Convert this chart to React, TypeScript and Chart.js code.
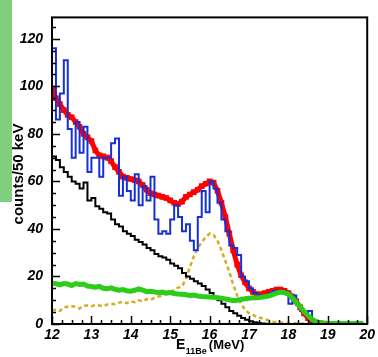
import React, { useEffect, useRef } from "react";
import { Chart, registerables } from "chart.js";
Chart.register(...registerables);

// bin grid: 0.1 MeV bins starting at 12 MeV
const E_START = 12;
const BIN = 0.1;

const xTickValues = [12, 13, 14, 15, 16, 17, 18, 19, 20];
const yTickValues = [0, 20, 40, 60, 80, 100, 120];

// measured spectrum (blue histogram), 12.0 .. 19.9
const dataBlue = [
  116, 86, 97, 111, 82, 70, 85, 72, 83, 64,
  70, 70, 62, 70, 70, 76, 78, 54, 62, 56,
  52, 63, 50, 58, 52, 62, 44, 38, 39, 38,
  44, 50, 45, 39, 42, 35, 31, 45, 56, 47,
  60, 57, 51, 44, 39, 33, 32, 29, 20, 18,
  15, 13, 12, 11, 12, 13, 14, 13, 14, 13.5,
  8.5, 12, 8, 5.5, 5, 5.5, 1, 0.5, 0.3, 0.5,
  0.2, 0.3, 0.1, 0.2, 0, 0.1, 0.2, 0, 0.1, 0,
];

// total fit (red), 12.0 .. 19.0
const fitRed = [
  99, 95, 92.5, 90, 88, 87, 85, 83, 80, 78.5,
  77, 73, 71, 70.5, 70, 68.5, 66, 64, 62, 61.5,
  61, 60.5, 60, 58.5, 56.5, 55, 54.5, 54, 53.5, 53,
  52, 51, 50.5, 51.5, 53.5, 54.5, 55.5, 56.5, 58, 59,
  60, 59.5, 56, 51, 45, 38, 31, 25, 20.5, 17.5,
  15, 13.5, 12.5, 12.5, 13, 13.5, 14, 14.5, 14.5, 14,
  13, 11.5, 9.5, 7, 4.5, 2.5, 1.3, 0.6, 0.3, 0.2,
  0.1,
];

// background (black histogram), 12.0 .. 17.4
const bgBlack = [
  70.5, 69, 66, 64, 62, 60, 59, 57, 59.5, 52,
  53, 49.5, 48.5, 47, 46.5, 44, 42, 41, 39, 38,
  37, 35.5, 34.5, 33.5, 32, 31, 29.5, 28.5, 28, 27,
  25.5, 24.5, 23.5, 21.5, 20, 19, 18, 17, 16, 14.5,
  13, 11.5, 10, 8.5, 7, 5.5, 4.5, 3.5, 2.5, 1.8,
  1.2, 0.7, 0.4, 0.2, 0.1,
];

// component (yellow dashed), 12.0 .. 19.9
const compYellow = [
  5.8, 6, 5.5, 7, 7.3, 7.5, 7.2, 6.5, 7.6, 7.8,
  7.5, 8, 7.8, 7.5, 8.2, 8.5, 8.3, 9, 9.3, 8.8,
  9.5, 9.2, 10, 9.5, 10.5, 10.2, 11, 11.5, 12, 12.8,
  13.5, 14.5, 15.3, 15.8, 19, 24, 28.5, 32, 34.5, 36.5,
  38, 37.5, 35, 31, 26.5, 22, 16.5, 12, 8.5, 6,
  4.5, 3.8, 3, 2.5, 2, 1.5, 1, 0.8, 0.6, 0.5,
  0.3, 0.2, 0.2, 0.2, 0.1, 0.1, 0.1, 0.1, 0.1, 0.1,
  0.1, 0.1, 0.1, 0.1, 0.1, 0.1, 0.1, 0.1, 0.1, 0.1,
];

// component (green), 12.0 .. 19.9
const compGreen = [
  17.2, 17, 16.5, 17, 16.8, 16.2, 17, 16.6, 16.8, 16,
  15.8, 15.5, 15.8, 15, 14.8, 15.2, 14.6, 14.2, 14.5, 14,
  13.8, 14.2, 14.8, 14.3, 13.6, 13.8, 13.5, 13.2, 13.4, 13,
  13.2, 12.8, 12.6, 12.5, 12.3, 12, 12.2, 11.8, 11.6, 11.5,
  11.4, 11.3, 11, 10.8, 10.5, 10.2, 9.8, 10, 10.3, 10.6,
  10.8, 11, 11, 11.2, 11.5, 11.8, 12.4, 13, 13.4, 13.2,
  12.6, 11, 9.2, 7.2, 5.2, 3.5, 2, 1, 0.5, 0.3,
  0.2, 0.2, 0.2, 0.2, 0.2, 0.2, 0.2, 0.2, 0.2, 0.2,
];

const edge = (i: number) => Math.round((E_START + i * BIN) * 100) / 100;

// histogram points: left edges + closing point at the last right edge
const histPoints = (vals: number[]) => {
  const pts = vals.map((v, i) => ({ x: edge(i), y: v }));
  pts.push({ x: edge(vals.length), y: vals[vals.length - 1] });
  return pts;
};
const curvePoints = (vals: number[]) => vals.map((v, i) => ({ x: edge(i), y: v }));

const FONT = "Arial, 'Liberation Sans', Helvetica, sans-serif";

const decorPlugin = {
  id: "decor",
  beforeDraw(chart: any) {
    const ctx = chart.ctx;
    ctx.save();
    ctx.fillStyle = "#ffffff";
    ctx.fillRect(0, 0, chart.width, chart.height);
    ctx.fillStyle = "#7fcf7f";
    ctx.fillRect(0, 0, 12, 202);
    // y title
    ctx.fillStyle = "#000";
    ctx.translate(19, 174);
    ctx.rotate(-Math.PI / 2);
    ctx.font = `bold 15px ${FONT}`;
    ctx.textAlign = "center";
    ctx.textBaseline = "middle";
    ctx.fillText("counts/50 keV", 0, 0);
    ctx.restore();
    // x title with subscript
    ctx.save();
    ctx.fillStyle = "#000";
    ctx.textBaseline = "alphabetic";
    ctx.textAlign = "left";
    let x = 176;
    ctx.font = `bold 14px ${FONT}`;
    ctx.fillText("E", x, 349);
    x += ctx.measureText("E").width + 0.5;
    ctx.font = `bold 9px ${FONT}`;
    ctx.fillText("11Be", x, 354);
    x += ctx.measureText("11Be").width + 2;
    ctx.font = `bold 13px ${FONT}`;
    ctx.fillText("(MeV)", x, 349);
    ctx.restore();
  },
  afterDatasetsDraw(chart: any) {
    const ctx = chart.ctx;
    const { left, right, top, bottom } = chart.chartArea;
    const xs = chart.scales.x;
    const ys = chart.scales.y;
    ctx.save();
    ctx.strokeStyle = "#000";
    ctx.lineWidth = 2;
    ctx.strokeRect(left, top, right - left, bottom - top);
    ctx.lineWidth = 1.5;
    ctx.beginPath();
    for (let k = 0; k <= 32; k++) {
      const v = 12 + k * 0.25;
      const px = Math.round(xs.getPixelForValue(v)) + 0.5;
      const len = k % 4 === 0 ? 8 : 4;
      ctx.moveTo(px, bottom);
      ctx.lineTo(px, bottom - len);
    }
    for (let v = 0; v <= 125; v += 5) {
      const py = Math.round(ys.getPixelForValue(v)) + 0.5;
      const len = v % 20 === 0 ? 8 : 4;
      ctx.moveTo(left, py);
      ctx.lineTo(left + len, py);
    }
    ctx.stroke();
    ctx.restore();
  },
};

export default function App() {
  const ref = useRef<HTMLCanvasElement>(null);
  useEffect(() => {
    if (!ref.current) return;
    const chart = new Chart(ref.current, {
      type: "line",
      data: {
        datasets: [
          {
            label: "green",
            data: curvePoints(compGreen),
            borderColor: "#2ccc18",
            borderWidth: 5,
            pointRadius: 0,
            tension: 0,
          },
          {
            label: "data",
            data: histPoints(dataBlue),
            borderColor: "#1530d8",
            borderWidth: 2,
            pointRadius: 0,
            stepped: true,
          },
          {
            label: "fit",
            data: curvePoints(fitRed),
            borderColor: "#ff0000",
            backgroundColor: "#ff0000",
            borderWidth: 5,
            pointStyle: "rect",
            pointRadius: 4,
            pointBorderWidth: 0,
            tension: 0,
          },
          {
            label: "background",
            data: histPoints(bgBlack),
            borderColor: "#000000",
            borderWidth: 2,
            pointRadius: 0,
            stepped: true,
          },
          {
            label: "yellow",
            data: curvePoints(compYellow),
            borderColor: "#d2ae22",
            borderWidth: 2.5,
            borderDash: [4, 3],
            pointRadius: 0,
            tension: 0,
          },
        ],
      },
      options: {
        animation: false,
        responsive: false,
        devicePixelRatio: 1,
        layout: { padding: { top: 6, right: 7, left: 0, bottom: 0 } },
        plugins: { legend: { display: false }, tooltip: { enabled: false } },
        scales: {
          x: {
            type: "linear",
            min: 12,
            max: 20,
            grid: { display: false, drawTicks: false },
            border: { display: false },
            afterBuildTicks: (s: any) => {
              s.ticks = xTickValues.map((v) => ({ value: v }));
            },
            afterFit: (s: any) => {
              s.height = 33;
            },
            ticks: {
              padding: 3,
              color: "#000",
              maxRotation: 0,
              autoSkip: false,
              font: { family: FONT, size: 14, weight: "bold", style: "italic" },
            },
          },
          y: {
            type: "linear",
            min: 0,
            max: 129,
            grid: { display: false, drawTicks: false },
            border: { display: false },
            afterBuildTicks: (s: any) => {
              s.ticks = yTickValues.map((v) => ({ value: v }));
            },
            afterFit: (s: any) => {
              s.width = 52;
            },
            ticks: {
              padding: 9,
              color: "#000",
              autoSkip: false,
              font: { family: FONT, size: 14, weight: "bold", style: "italic" },
            },
          },
        },
      },
      plugins: [decorPlugin],
    } as any);
    return () => chart.destroy();
  }, []);
  return (
    <div style={{ position: "fixed", left: 0, top: 0, width: 378, height: 357, background: "#fff" }}>
      <canvas ref={ref} width={378} height={357} style={{ width: 378, height: 357, display: "block" }} />
    </div>
  );
}
